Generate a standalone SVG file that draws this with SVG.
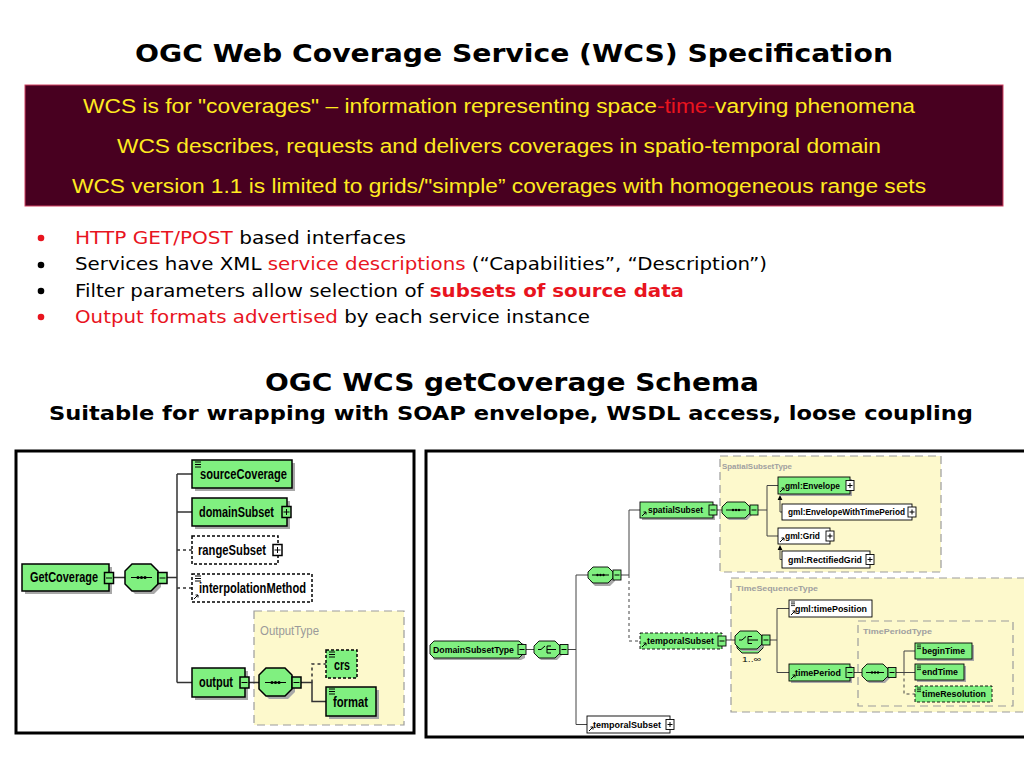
<svg xmlns="http://www.w3.org/2000/svg" xmlns:xlink="http://www.w3.org/1999/xlink" width="1024" height="768" viewBox="0 0 1024 768">
<style>
.ttl{font-family:"DejaVu Sans",Verdana,sans-serif;font-weight:bold;fill:#000}
.box{font-family:"Liberation Sans",Arial,sans-serif;font-size:20px;fill:#ffea20}
.bul{font-family:"DejaVu Sans",Verdana,sans-serif;font-size:17px;fill:#000}
.red{fill:#e8141e}
.b{font-weight:bold}
.ll{font-family:"Liberation Sans",Arial,sans-serif;font-weight:bold;font-size:14px;fill:#000}
.lr{font-family:"Liberation Sans",Arial,sans-serif;font-weight:bold;font-size:9px;fill:#000}
.tl{font-family:"Liberation Sans",Arial,sans-serif;font-size:13px;fill:#9a9a9a}
.tr{font-family:"Liberation Sans",Arial,sans-serif;font-weight:bold;font-size:8px;fill:#a0a0a0}
.mul{font-family:"Liberation Sans",Arial,sans-serif;font-size:8px;fill:#000}
.el{fill:#80f080;stroke:#000;stroke-width:1.5}
.wh{fill:#fff;stroke:#000;stroke-width:1.5}
.elr{fill:#80f080;stroke:#000;stroke-width:0.9}
.whr{fill:#fff;stroke:#000;stroke-width:0.9}
.dash{stroke-dasharray:3 2}
.sh{fill:#a8a8a8}
.yel{fill:#fdf9cc;stroke:#9c9c9c;stroke-width:1.2;stroke-dasharray:8 5}
.cn{fill:none;stroke:#333;stroke-width:1.5}
.cr{fill:none;stroke:#444;stroke-width:1}
.cd{stroke-dasharray:3 3}
.ic{fill:none;stroke:#000;stroke-width:1}
.dot{fill:#000}
.frame{fill:#fff;stroke:#000;stroke-width:3}
</style>
<defs>
<path id="eqL" d="M0 0h6M0 2.5h6M0 5h6" fill="none" stroke="#000" stroke-width="1"/>
<path id="eqR" d="M0 0h4M0 1.8h4M0 3.6h4" fill="none" stroke="#000" stroke-width="0.8"/>
<path id="ra" d="M0 0l4 -4M1.5 -4h2.5v2.5" fill="none" stroke="#000" stroke-width="1"/>
</defs>
<rect width="1024" height="768" fill="#fff"/>

<g id="header">
<text class="ttl" x="514" y="62" font-size="25" text-anchor="middle" textLength="758" lengthAdjust="spacingAndGlyphs">OGC Web Coverage Service (WCS) Specification</text>
<rect x="25" y="85" width="978" height="121" fill="#480020" stroke="#d04060" stroke-width="1"/>
<text class="box" x="83" y="113" textLength="832" lengthAdjust="spacingAndGlyphs">WCS is for "coverages" – information representing space<tspan class="red">-time-</tspan>varying phenomena</text>
<text class="box" x="117" y="153" textLength="764" lengthAdjust="spacingAndGlyphs">WCS describes, requests and delivers coverages in spatio-temporal domain</text>
<text class="box" x="72" y="193" textLength="854" lengthAdjust="spacingAndGlyphs">WCS version 1.1 is limited to grids/"simple” coverages with homogeneous range sets</text>
</g>

<g id="bullets">
<circle cx="41" cy="238" r="3.3" fill="#e8141e"/>
<circle cx="41" cy="265" r="3.3" fill="#000"/>
<circle cx="41" cy="291" r="3.3" fill="#000"/>
<circle cx="41" cy="317" r="3.3" fill="#e8141e"/>
<text class="bul" x="75" y="244" textLength="331" lengthAdjust="spacingAndGlyphs"><tspan class="red">HTTP GET/POST</tspan> based interfaces</text>
<text class="bul" x="75" y="270" textLength="692" lengthAdjust="spacingAndGlyphs">Services have XML <tspan class="red">service descriptions</tspan> (“Capabilities”, “Description”)</text>
<text class="bul" x="75" y="297" textLength="609" lengthAdjust="spacingAndGlyphs">Filter parameters allow selection of <tspan class="red b">subsets of source data</tspan></text>
<text class="bul" x="75" y="323" textLength="515" lengthAdjust="spacingAndGlyphs"><tspan class="red">Output formats advertised</tspan> by each service instance</text>
</g>

<g id="subtitle">
<text class="ttl" x="512" y="391" font-size="25" text-anchor="middle" textLength="494" lengthAdjust="spacingAndGlyphs">OGC WCS getCoverage Schema</text>
<text class="ttl" x="511" y="420" font-size="19" text-anchor="middle" textLength="924" lengthAdjust="spacingAndGlyphs">Suitable for wrapping with SOAP envelope, WSDL access, loose coupling</text>
</g>

<rect id="frame-left" class="frame" x="16" y="451" width="398" height="282"/>
<rect id="frame-right" class="frame" x="426" y="451" width="610" height="286"/>

<g id="type-boxes">
<g id="t-outputtype"><rect class="yel" x="254" y="611" width="150" height="114"/><text class="tl" x="260" y="635" textLength="59" lengthAdjust="spacingAndGlyphs">OutputType</text></g>
<g id="t-spatialsubsettype"><rect class="yel" x="720" y="456" width="221" height="116"/><text class="tr" x="722" y="469" textLength="70" lengthAdjust="spacingAndGlyphs">SpatialSubsetType</text></g>
<g id="t-timesequencetype"><rect class="yel" x="731" y="578" width="300" height="134"/><text class="tr" x="736" y="591" textLength="82" lengthAdjust="spacingAndGlyphs">TimeSequenceType</text></g>
<g id="t-timeperiodtype"><rect class="yel" x="858" y="621" width="155" height="85"/><text class="tr" x="863" y="634" textLength="69" lengthAdjust="spacingAndGlyphs">TimePeriodType</text></g>
</g>

<g id="connectors">
<path class="cn" d="M114 577.5H125M167 577.5H177M177 474V682.5M177 474H192M177 512H192M177 682.5H192M249 682.5H259M301 682.5H312V701.5H326"/>
<path class="cn cd" d="M177 550H192M177 588H192M312 682.5V664H326"/>
<path class="cr" d="M526 649.5H534M568 649.5H576M576 575V724.5M576 575H588M576 724.5H587M621 575H629V510H640M717 510H722M758 510H767M767 485.5V536M767 485.5H778M767 536H778M726 640H735M770 640H777M777 608.5V672.5M777 608.5H789M777 672.5H789M854 672.5H862M896 672.5H904M904 651V672.5M904 651H915M904 672.5H915"/>
<path class="cr cd" d="M629 575V641H640M904 672.5V694H915"/>
<path class="cr" d="M782 512H780V499M782 559.5H780V549"/>
<path d="M777.6 500L780 495L782.4 500ZM777.6 550L780 545L782.4 550Z" fill="#000"/>
</g>

<g id="n-getcoverage">
<rect class="sh" x="25" y="567" width="87" height="27"/>
<rect class="el" x="22" y="564" width="87" height="27"/>
<text class="ll" x="30" y="582" textLength="68" lengthAdjust="spacingAndGlyphs">GetCoverage</text>
<rect class="el" x="104.5" y="572.5" width="9" height="11"/><path class="ic" d="M106 578h6"/>
</g>
<g id="n-seq-getcoverage">
<path class="sh" d="M135 567H154L161 574V587L154 594H135L128 587V574Z"/>
<path class="el" d="M132 564H151L158 571V584L151 591H132L125 584V571Z"/>
<path class="ic" d="M131 577.5H152"/><circle class="dot" cx="138" cy="577.5" r="1.6"/><circle class="dot" cx="141.5" cy="577.5" r="1.6"/><circle class="dot" cx="145" cy="577.5" r="1.6"/>
<rect class="el" x="158" y="572.5" width="9" height="11"/><path class="ic" d="M159.5 578h6"/>
</g>
<g id="n-sourcecoverage">
<rect class="sh" x="195" y="463" width="100" height="28"/>
<rect class="el" x="192" y="460" width="100" height="28"/>
<use href="#eqL" x="195" y="462"/>
<text class="ll" x="200" y="479" textLength="87" lengthAdjust="spacingAndGlyphs">sourceCoverage</text>
</g>
<g id="n-domainsubset">
<rect class="sh" x="195" y="501" width="95" height="28"/>
<rect class="el" x="192" y="498" width="95" height="28"/>
<text class="ll" x="199" y="517" textLength="75" lengthAdjust="spacingAndGlyphs">domainSubset</text>
<rect class="el" x="282" y="506.5" width="9" height="11"/><path class="ic" d="M283.5 512h6M286.5 509v6"/>
</g>
<g id="n-rangesubset">
<rect class="wh dash" x="192" y="536" width="86" height="28"/>
<text class="ll" x="198" y="555" textLength="68" lengthAdjust="spacingAndGlyphs">rangeSubset</text>
<rect class="wh" x="273" y="544.5" width="9" height="11"/><path class="ic" d="M274.5 550h6M277.5 547v6"/>
</g>
<g id="n-interpolationmethod">
<rect class="wh dash" x="192" y="574" width="120" height="28"/>
<use href="#eqL" x="195" y="576"/>
<use href="#ra" x="194" y="599"/>
<text class="ll" x="199" y="593" textLength="107" lengthAdjust="spacingAndGlyphs">interpolationMethod</text>
</g>
<g id="n-output">
<rect class="sh" x="195" y="671" width="53" height="29"/>
<rect class="el" x="192" y="668" width="53" height="29"/>
<text class="ll" x="199" y="687" textLength="34" lengthAdjust="spacingAndGlyphs">output</text>
<rect class="el" x="240" y="677" width="9" height="11"/><path class="ic" d="M241.5 682.5h6"/>
</g>
<g id="n-seq-output">
<path class="sh" d="M269 671H288L295 678V692L288 699H269L262 692V678Z"/>
<path class="el" d="M266 668H285L292 675V689L285 696H266L259 689V675Z"/>
<path class="ic" d="M265 682.5H286"/><circle class="dot" cx="272" cy="682.5" r="1.6"/><circle class="dot" cx="275.5" cy="682.5" r="1.6"/><circle class="dot" cx="279" cy="682.5" r="1.6"/>
<rect class="el" x="292" y="677" width="9" height="11"/><path class="ic" d="M293.5 682.5h6"/>
</g>
<g id="n-crs">
<rect class="el dash" x="326" y="650" width="31" height="28"/>
<use href="#eqL" x="329" y="652"/>
<text class="ll" x="334" y="670" textLength="16" lengthAdjust="spacingAndGlyphs">crs</text>
</g>
<g id="n-format">
<rect class="sh" x="329" y="690" width="50" height="29"/>
<rect class="el" x="326" y="687" width="50" height="29"/>
<use href="#eqL" x="329" y="689"/>
<text class="ll" x="333" y="707" textLength="35" lengthAdjust="spacingAndGlyphs">format</text>
</g>

<g id="n-domainsubsettype">
<path class="sh" d="M436 643H523L525 647V658L521 660H434L432 656V647Z"/>
<path class="elr" d="M434 641H519L523 645V654L519 658H434L430 654V645Z"/>
<text class="lr" x="433" y="653" textLength="81" lengthAdjust="spacingAndGlyphs">DomainSubsetType</text>
<rect class="elr" x="518" y="644.5" width="8" height="10"/><path class="ic" d="M519.5 649.5h5"/>
</g>
<g id="n-choice-domain">
<path class="sh" d="M541 643H557L562 648V655L557 660H541L536 655V648Z"/>
<path class="elr" d="M539 641H555L560 646V653L555 658H539L534 653V646Z"/>
<path class="ic" d="M538 649.5H541L545 646M547 646V653M547 646H551M547 649.5H551M547 653H551M551 649.5H556"/>
<rect class="elr" x="560" y="644.5" width="8" height="10"/><path class="ic" d="M561.5 649.5h5"/>
</g>
<g id="n-seq-domain">
<path class="sh" d="M595 569H610L615 574V581L610 586H595L590 581V574Z"/>
<path class="elr" d="M593 567H608L613 572V578L608 583H593L588 578V572Z"/>
<path class="ic" d="M592 575H609"/><circle class="dot" cx="597.5" cy="575" r="1.2"/><circle class="dot" cx="600.5" cy="575" r="1.2"/><circle class="dot" cx="603.5" cy="575" r="1.2"/>
<rect class="elr" x="613" y="570" width="8" height="10"/><path class="ic" d="M614.5 575h5"/>
</g>
<g id="n-spatialsubset">
<rect class="sh" x="642" y="504" width="73" height="16"/>
<rect class="elr" x="640" y="502" width="73" height="16"/>
<use href="#ra" x="642" y="516"/>
<text class="lr" x="648" y="513" textLength="55" lengthAdjust="spacingAndGlyphs">spatialSubset</text>
<rect class="elr" x="709" y="505" width="8" height="10"/><path class="ic" d="M710.5 510h5"/>
</g>
<g id="n-temporalsubset-a">
<rect class="elr dash" x="640" y="633" width="82" height="16"/>
<use href="#ra" x="642" y="647"/>
<text class="lr" x="647" y="644" textLength="67" lengthAdjust="spacingAndGlyphs">temporalSubset</text>
<rect class="elr" x="718" y="636" width="8" height="10"/><path class="ic" d="M719.5 641h5"/>
</g>
<g id="n-temporalsubset-b">
<rect class="whr" x="587" y="716" width="83" height="17"/>
<use href="#ra" x="589" y="731"/>
<text class="lr" x="593" y="728" textLength="68" lengthAdjust="spacingAndGlyphs">temporalSubset</text>
<rect class="whr" x="666" y="719.5" width="8" height="10"/><path class="ic" d="M667.5 724.5h5M670 722v5"/>
</g>
<g id="n-seq-spatial">
<path class="sh" d="M729 504H747L752 509V515L747 520H729L724 515V509Z"/>
<path class="elr" d="M727 502H745L750 507V513L745 518H727L722 513V507Z"/>
<path class="ic" d="M726 510H746"/><circle class="dot" cx="733" cy="510" r="1.2"/><circle class="dot" cx="736" cy="510" r="1.2"/><circle class="dot" cx="739" cy="510" r="1.2"/>
<rect class="elr" x="750" y="505" width="8" height="10"/><path class="ic" d="M751.5 510h5"/>
</g>
<g id="n-gml-envelope">
<rect class="sh" x="780" y="479" width="72" height="17"/>
<rect class="elr" x="778" y="477" width="72" height="17"/>
<use href="#ra" x="780" y="492"/>
<text class="lr" x="785" y="489" textLength="55" lengthAdjust="spacingAndGlyphs">gml:Envelope</text>
<rect class="whr" x="846" y="480.5" width="8" height="10"/><path class="ic" d="M847.5 485.5h5M850 483v5"/>
</g>
<g id="n-gml-envelopewithtimeperiod">
<rect class="whr" x="782" y="504" width="130" height="16"/>
<text class="lr" x="788" y="515" textLength="117" lengthAdjust="spacingAndGlyphs">gml:EnvelopeWithTimePeriod</text>
<rect class="whr" x="908" y="507" width="8" height="10"/><path class="ic" d="M909.5 512h5M912 509.5v5"/>
</g>
<g id="n-gml-grid">
<rect class="whr" x="778" y="528" width="52" height="16"/>
<use href="#ra" x="780" y="542"/>
<text class="lr" x="785" y="539" textLength="35" lengthAdjust="spacingAndGlyphs">gml:Grid</text>
<rect class="whr" x="826" y="531" width="8" height="10"/><path class="ic" d="M827.5 536h5M830 533.5v5"/>
</g>
<g id="n-gml-rectifiedgrid">
<rect class="whr" x="782" y="551" width="88" height="17"/>
<text class="lr" x="788" y="563" textLength="74" lengthAdjust="spacingAndGlyphs">gml:RectifiedGrid</text>
<rect class="whr" x="866" y="554.5" width="8" height="10"/><path class="ic" d="M867.5 559.5h5M870 557v5"/>
</g>
<g id="n-choice-time">
<path class="elr" d="M742 635H758L763 640V648L758 653H742L737 648V640Z"/>
<path class="sh" d="M742 633H759L764 638V646L759 651H742L737 646V638Z"/>
<path class="elr" d="M740 631H757L762 636V644L757 649H740L735 644V636Z"/>
<path class="ic" d="M739 640H742L746 636.5M748 636.5V643.5M748 636.5H752M748 640H752M748 643.5H752M752 640H758"/>
<rect class="elr" x="762" y="635" width="8" height="10"/><path class="ic" d="M763.5 640h5"/>
<text class="mul" x="742" y="662" textLength="19" lengthAdjust="spacingAndGlyphs">1..∞</text>
</g>
<g id="n-gml-timeposition">
<rect class="whr" x="789" y="600" width="83" height="17"/>
<use href="#eqR" x="791" y="602"/>
<use href="#ra" x="791" y="615"/>
<text class="lr" x="795" y="612" textLength="72" lengthAdjust="spacingAndGlyphs">gml:timePosition</text>
</g>
<g id="n-timeperiod">
<rect class="sh" x="791" y="666" width="61" height="17"/>
<rect class="elr" x="789" y="664" width="61" height="17"/>
<use href="#ra" x="791" y="679"/>
<text class="lr" x="795" y="676" textLength="46" lengthAdjust="spacingAndGlyphs">timePeriod</text>
<rect class="elr" x="846" y="667.5" width="8" height="10"/><path class="ic" d="M847.5 672.5h5"/>
</g>
<g id="n-seq-time">
<path class="sh" d="M869 666H885L890 671V678L885 683H869L864 678V671Z"/>
<path class="elr" d="M867 664H883L888 669V676L883 681H867L862 676V669Z"/>
<path class="ic" d="M866 672.5H884"/><circle class="dot" cx="872" cy="672.5" r="1.2"/><circle class="dot" cx="875" cy="672.5" r="1.2"/><circle class="dot" cx="878" cy="672.5" r="1.2"/>
<rect class="elr" x="888" y="667.5" width="8" height="10"/><path class="ic" d="M889.5 672.5h5"/>
</g>
<g id="n-begintime">
<rect class="sh" x="917" y="645" width="57" height="16"/>
<rect class="elr" x="915" y="643" width="57" height="16"/>
<use href="#eqR" x="917" y="645"/>
<text class="lr" x="922" y="654" textLength="43" lengthAdjust="spacingAndGlyphs">beginTime</text>
</g>
<g id="n-endtime">
<rect class="sh" x="917" y="666" width="49" height="16"/>
<rect class="elr" x="915" y="664" width="49" height="16"/>
<use href="#eqR" x="917" y="666"/>
<text class="lr" x="922" y="675" textLength="36" lengthAdjust="spacingAndGlyphs">endTime</text>
</g>
<g id="n-timeresolution">
<rect class="elr dash" x="915" y="686" width="77" height="16"/>
<use href="#eqR" x="917" y="688"/>
<text class="lr" x="922" y="697" textLength="64" lengthAdjust="spacingAndGlyphs">timeResolution</text>
</g>
</svg>
